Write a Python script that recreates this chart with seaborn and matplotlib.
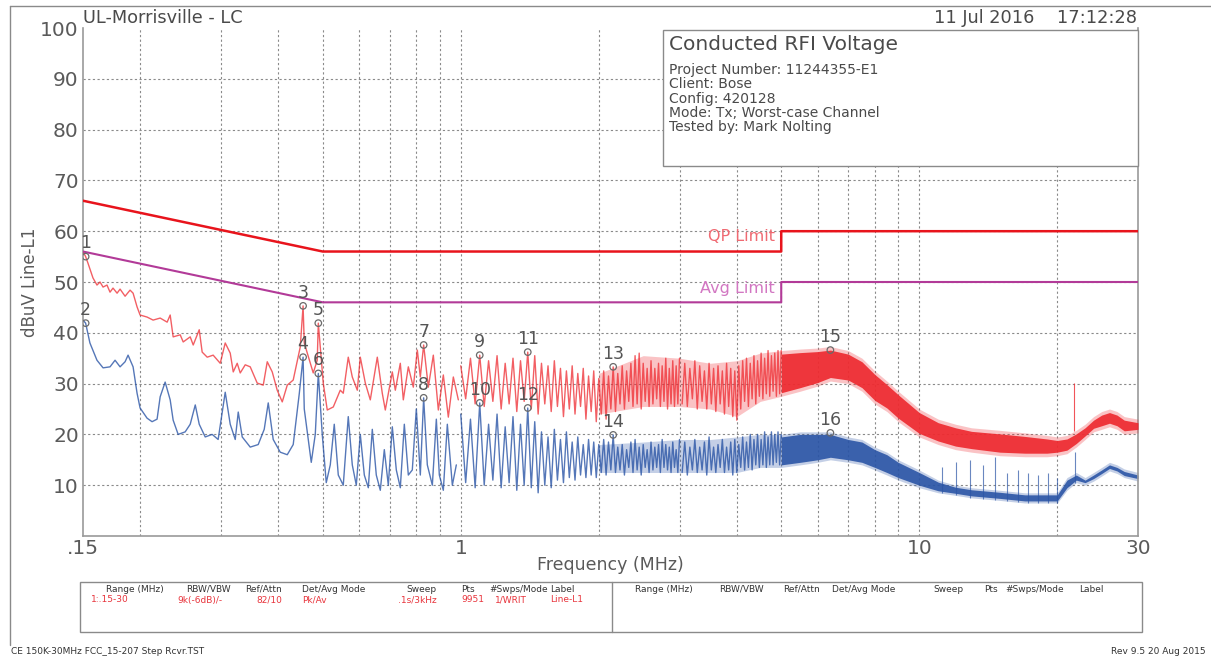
import numpy as np
import matplotlib
matplotlib.use("Agg")
import matplotlib.pyplot as plt
import seaborn as sns
from matplotlib.lines import Line2D
from matplotlib.patches import Rectangle

# ---------------- limit lines (FCC 15.207) ----------------
qp_freq = [0.15, 0.5, 5.0, 5.0, 30.0]
qp_level = [66.0, 56.0, 56.0, 60.0, 60.0]
avg_freq = [0.15, 0.5, 5.0, 5.0, 30.0]
avg_level = [56.0, 46.0, 46.0, 50.0, 50.0]

# ---------------- peak trace (red), 0.15 - 1 MHz ----------------
red_lo_freq = [0.150, 0.152, 0.1538, 0.1577, 0.1609, 0.1634, 0.1659, 0.1692, 0.1718, 0.1744,
               0.1780, 0.1807, 0.1853, 0.1900, 0.1929, 0.1968, 0.1998, 0.2069, 0.2133, 0.2210,
               0.2289, 0.2324, 0.2359, 0.2444, 0.2481, 0.2570, 0.2609, 0.2689, 0.2729, 0.2799,
               0.2884, 0.2988, 0.3064, 0.3142, 0.3190, 0.3254, 0.3304, 0.3388, 0.3474, 0.3598,
               0.3709, 0.3784, 0.3880, 0.3978, 0.4080, 0.4184, 0.4311, 0.4466, 0.453, 0.4557,
               0.4767, 0.4864, 0.489, 0.5013, 0.5115, 0.5272, 0.5460, 0.5543, 0.5684, 0.5800,
               0.5948, 0.6038, 0.6192, 0.6349, 0.6576, 0.6743, 0.6846, 0.7091, 0.7199, 0.7382,
               0.7494, 0.7685, 0.7880, 0.8040, 0.8162, 0.830, 0.8497, 0.8713, 0.8935, 0.9162,
               0.9395, 0.9634, 0.9879]
red_lo_level = [56.0, 55.0, 53.7, 50.8, 49.4, 50.0, 49.0, 49.4, 48.0, 48.8,
                47.8, 48.6, 47.2, 48.4, 47.8, 45.1, 43.5, 43.1, 42.5, 42.9,
                42.1, 43.5, 39.2, 39.6, 38.2, 39.2, 37.6, 40.6, 36.2, 35.2,
                35.6, 34.0, 38.0, 36.0, 32.3, 34.0, 32.1, 33.7, 33.3, 30.1,
                29.7, 34.3, 32.3, 28.7, 26.4, 29.7, 30.7, 37.2, 45.3, 38.0,
                32.1, 34.6, 41.9, 30.1, 24.8, 25.4, 28.7, 28.1, 35.2, 31.3,
                28.7, 35.2, 30.1, 26.8, 35.2, 28.1, 24.8, 32.3, 28.7, 34.0,
                26.8, 33.3, 29.3, 36.6, 31.3, 37.6, 29.3, 35.6, 24.8, 31.7,
                23.4, 31.3, 26.8]

# ---------------- average trace (blue), 0.15 - 1 MHz ----------------
blue_lo_freq = [0.150, 0.152, 0.1553, 0.1609, 0.1659, 0.1718, 0.1762, 0.1807, 0.1853, 0.1881,
                0.1929, 0.1968, 0.1998, 0.2069, 0.2122, 0.2176, 0.2210, 0.2266, 0.2324, 0.2359,
                0.2419, 0.2506, 0.2570, 0.2636, 0.2689, 0.2771, 0.2870, 0.2957, 0.3064, 0.3142,
                0.3222, 0.3271, 0.3337, 0.3474, 0.3616, 0.3727, 0.3803, 0.3899, 0.4039, 0.4184,
                0.4311, 0.4444, 0.453, 0.4557, 0.4720, 0.4816, 0.489, 0.4988, 0.5089, 0.5193,
                0.5298, 0.5406, 0.5543, 0.5684, 0.5800, 0.5918, 0.6038, 0.6161, 0.6286, 0.6413,
                0.6543, 0.6676, 0.6812, 0.6950, 0.7091, 0.7235, 0.7382, 0.7532, 0.7685, 0.7840,
                0.8000, 0.8162, 0.830, 0.8454, 0.8670, 0.8846, 0.8980, 0.9162, 0.9348, 0.9586,
                0.978]
blue_lo_level = [42.5, 41.9, 38.0, 34.6, 33.1, 33.3, 34.6, 33.3, 34.3, 35.6,
                 33.3, 28.1, 25.2, 23.2, 22.5, 23.0, 27.4, 30.3, 26.8, 22.8,
                 20.0, 20.5, 22.0, 25.8, 22.0, 19.5, 20.0, 19.0, 28.3, 22.0,
                 19.0, 24.4, 19.5, 17.5, 18.0, 21.0, 26.2, 19.0, 16.5, 16.0,
                 18.0, 28.0, 35.2, 25.0, 14.5, 20.0, 32.0, 20.0, 10.5, 14.0,
                 22.0, 12.0, 10.0, 23.5, 14.0, 10.0, 20.0, 12.0, 9.5, 21.0,
                 12.0, 9.0, 17.0, 10.0, 21.5, 13.0, 9.5, 22.0, 12.0, 13.0,
                 25.0, 12.0, 27.2, 14.0, 10.0, 23.0, 12.0, 9.0, 22.0, 10.0,
                 14.0]

# ---------------- 1 - 3 MHz sweep (peaks / troughs) ----------------
mid_freq = [1.000, 1.025, 1.050, 1.075, 1.100, 1.125, 1.150, 1.175, 1.200, 1.225,
            1.250, 1.275, 1.300, 1.325, 1.350, 1.375, 1.400, 1.425, 1.450, 1.475,
            1.500, 1.525, 1.550, 1.575, 1.600, 1.625, 1.650, 1.675, 1.700, 1.725,
            1.750, 1.775, 1.800, 1.825, 1.850, 1.875, 1.900, 1.925, 1.950, 1.975,
            2.000, 2.025, 2.050, 2.075, 2.100, 2.125, 2.150, 2.175, 2.200, 2.225,
            2.250, 2.275, 2.300, 2.325, 2.350, 2.375, 2.400, 2.425, 2.450, 2.475,
            2.500, 2.525, 2.550, 2.575, 2.600, 2.625, 2.650, 2.675, 2.700, 2.725,
            2.750, 2.775, 2.800, 2.825, 2.850, 2.875, 2.900, 2.925, 2.950, 2.975,
            3.000]
red_mid_level = [33.5, 27.0, 35.0, 26.0, 35.6, 25.5, 34.5, 26.5, 35.5, 25.0,
                 34.0, 26.0, 35.0, 24.5, 34.5, 26.5, 36.2, 25.0, 35.5, 24.0,
                 34.0, 26.0, 33.5, 24.5, 34.5, 25.5, 33.0, 23.5, 32.5, 25.0,
                 33.5, 24.0, 32.0, 25.5, 33.0, 23.0, 31.5, 24.5, 32.5, 22.5,
                 31.0, 24.0, 32.5, 23.0, 31.5, 25.0, 33.3, 24.5, 32.0, 26.0,
                 33.5, 25.0, 32.5, 26.5, 34.0, 25.5, 35.5, 26.0, 36.0, 25.0,
                 34.0, 26.5, 33.0, 25.5, 34.5, 26.0, 33.0, 27.0, 34.0, 25.5,
                 33.5, 26.5, 35.0, 25.0, 33.0, 26.0, 34.5, 25.5, 33.5, 26.0,
                 35.0]
blue_mid_level = [24.0, 10.5, 23.0, 9.5, 26.2, 10.0, 22.0, 11.0, 24.0, 9.5,
                  21.5, 10.5, 23.5, 9.0, 22.0, 10.0, 25.2, 9.5, 22.5, 8.5,
                  20.5, 10.0, 19.5, 9.5, 21.0, 11.0, 19.0, 10.5, 20.5, 11.5,
                  18.5, 11.0, 19.5, 12.0, 18.0, 11.5, 19.0, 12.0, 18.5, 11.5,
                  18.0, 12.5, 19.0, 12.0, 18.5, 13.0, 19.9, 12.5, 17.5, 13.0,
                  18.0, 12.0, 17.0, 13.5, 18.5, 12.5, 19.0, 13.0, 17.5, 12.0,
                  18.0, 13.5, 17.0, 12.5, 18.5, 13.0, 17.5, 13.5, 18.0, 12.5,
                  19.0, 13.5, 18.0, 13.0, 17.5, 12.5, 18.5, 13.5, 17.0, 12.5,
                  19.0]

# ---------------- 3 - 5 MHz sweep (peaks / troughs) ----------------
hf_freq = [3.04, 3.08, 3.12, 3.16, 3.20, 3.24, 3.28, 3.32, 3.36, 3.40,
           3.44, 3.48, 3.52, 3.56, 3.60, 3.64, 3.68, 3.72, 3.76, 3.80,
           3.84, 3.88, 3.92, 3.96, 4.00, 4.04, 4.08, 4.12, 4.16, 4.20,
           4.24, 4.28, 4.32, 4.36, 4.40, 4.44, 4.48, 4.52, 4.56, 4.60,
           4.64, 4.68, 4.72, 4.76, 4.80, 4.84, 4.88, 4.92, 4.96, 5.00]
red_hf_level = [26.0, 34.0, 25.5, 33.0, 27.0, 34.5, 25.0, 33.5, 26.5, 32.5,
                25.0, 34.0, 26.0, 33.0, 24.5, 33.5, 26.0, 32.5, 24.0, 34.0,
                25.5, 33.0, 23.5, 32.5, 22.8, 33.5, 25.0, 34.5, 26.5, 35.0,
                25.5, 34.0, 27.0, 35.5, 26.0, 34.5, 27.5, 36.0, 27.0, 35.0,
                28.0, 36.5, 27.5, 35.5, 28.5, 36.0, 27.5, 36.5, 28.0, 36.5]
blue_hf_level = [12.5, 18.5, 12.0, 17.5, 13.0, 19.0, 12.5, 17.5, 13.0, 18.5,
                 12.0, 19.5, 13.0, 17.5, 12.5, 18.0, 13.5, 19.0, 12.5, 17.5,
                 13.0, 18.5, 12.0, 19.0, 12.5, 18.0, 13.5, 19.5, 13.0, 18.5,
                 13.5, 20.0, 13.0, 19.0, 14.0, 20.0, 13.5, 19.0, 14.0, 20.5,
                 13.5, 19.5, 14.0, 20.5, 14.0, 20.0, 14.5, 20.5, 14.0, 20.0]

# ---------------- 2 - 30 MHz: dense sweep extremes ----------------
band_freq = [2.0, 2.5, 3.0, 3.5, 4.0, 4.5,
             5.0, 5.5, 6.0, 6.4, 7.0, 7.5, 8.0, 8.5, 9.0, 10.0,
             11.0, 12.0, 13.0, 15.0, 17.0, 19.0, 20.0, 21.0, 22.0, 23.0,
             24.0, 25.0, 26.0, 27.0, 28.0, 30.0]
red_band_hi = [32.0, 35.5, 35.0, 34.0, 34.5, 36.0,
               36.5, 36.8, 37.0, 37.3, 36.5, 35.0, 32.5, 30.5, 28.5, 25.0,
               23.0, 22.0, 21.3, 20.8, 20.3, 19.8, 19.5, 19.8, 20.8, 22.0,
               23.5, 24.5, 25.0, 24.5, 23.5, 23.0]
red_band_lo = [24.0, 25.5, 25.5, 25.0, 23.5, 26.5,
               27.5, 28.5, 29.5, 30.5, 30.0, 28.5, 26.0, 24.5, 22.5, 19.5,
               18.0, 17.0, 16.5, 15.8, 15.6, 15.6, 15.8, 16.2, 17.5, 19.0,
               20.5, 21.0, 21.5, 21.0, 20.0, 20.3]
blue_band_hi = [18.0, 18.5, 19.0, 19.0, 19.5, 20.0,
                20.0, 20.5, 20.5, 20.5, 19.5, 19.0, 17.5, 16.5, 15.0, 13.0,
                11.0, 10.0, 9.5, 9.0, 8.5, 8.5, 8.5, 11.5, 12.5, 11.5,
                12.5, 13.5, 14.5, 14.0, 13.2, 12.5]
blue_band_lo = [12.5, 12.5, 12.5, 12.5, 12.5, 13.5,
                13.5, 14.0, 14.5, 15.0, 14.5, 14.0, 13.0, 12.0, 11.0, 9.5,
                8.5, 8.0, 7.5, 7.0, 6.5, 6.5, 6.5, 9.0, 10.5, 10.0,
                10.8, 11.8, 12.8, 12.3, 11.5, 10.8]

# ---------------- 5 - 30 MHz: solid core of the dense sweep ----------------
core_freq = [5.0, 5.5, 6.0, 6.4, 7.0, 7.5, 8.0, 8.5, 9.0, 10.0,
             11.0, 12.0, 13.0, 15.0, 17.0, 19.0, 20.0, 21.0, 22.0, 23.0,
             24.0, 25.0, 26.0, 27.0, 28.0, 30.0]
red_core_hi = [35.8, 36.1, 36.3, 36.6, 35.8, 34.3, 31.8, 29.8, 27.8, 24.3,
               22.3, 21.3, 20.6, 20.1, 19.6, 19.1, 18.8, 19.1, 20.1, 21.3,
               22.8, 23.8, 24.3, 23.8, 22.8, 22.3]
red_core_lo = [28.2, 29.2, 30.2, 31.2, 30.7, 29.2, 26.7, 25.2, 23.2, 20.2,
               18.7, 17.7, 17.2, 16.5, 16.3, 16.3, 16.5, 16.9, 18.2, 19.7,
               21.2, 21.7, 22.2, 21.7, 20.7, 21.0]
blue_core_hi = [19.5, 20.0, 20.0, 20.0, 19.0, 18.5, 17.0, 16.0, 14.5, 12.5,
                10.6, 9.6, 9.1, 8.6, 8.1, 8.1, 8.1, 11.0, 12.0, 11.0,
                12.0, 13.0, 14.0, 13.5, 12.7, 12.0]
blue_core_lo = [14.0, 14.5, 15.0, 15.5, 15.0, 14.5, 13.5, 12.5, 11.5, 10.0,
                8.9, 8.4, 7.9, 7.4, 6.9, 6.9, 6.9, 9.5, 11.0, 10.5,
                11.3, 12.3, 13.3, 12.8, 11.9, 11.3]

# narrow spurs standing above the envelope
red_spike_freq = [21.8]
red_spike_level = [30.1]
blue_spike_freq = [11.2, 12.0, 12.9, 13.8, 14.6, 15.5, 16.4, 17.3, 18.2, 19.1, 20.0, 21.9]
blue_spike_level = [13.5, 14.5, 15.0, 14.0, 15.5, 12.5, 13.0, 12.5, 12.0, 12.5, 11.5, 16.5]

# ---------------- markers ----------------
marker_id = ["1", "2", "3", "4", "5", "6", "7", "8", "9", "10", "11", "12", "13", "14", "15", "16"]
marker_freq = [0.152, 0.152, 0.453, 0.453, 0.489, 0.489, 0.830, 0.830, 1.100, 1.100,
               1.400, 1.400, 2.150, 2.150, 6.40, 6.40]
marker_level = [55.0, 41.9, 45.3, 35.2, 41.9, 32.0, 37.6, 27.2, 35.6, 26.2,
                36.2, 25.2, 33.3, 19.9, 36.6, 20.3]

# ---------------- header / info text ----------------
site_text = "UL-Morrisville - LC"
date_text = "11 Jul 2016    17:12:28"
title_text = "Conducted RFI Voltage"
info_lines = ["Project Number: 11244355-E1", "Client: Bose", "Config: 420128",
              "Mode: Tx; Worst-case Channel", "Tested by: Mark Nolting"]
x_ticks = [0.15, 1, 10, 30]
x_tick_labels = [".15", "1", "10", "30"]
y_ticks = [10, 20, 30, 40, 50, 60, 70, 80, 90, 100]
grid_x = [0.2, 0.3, 0.4, 0.5, 0.6, 0.7, 0.8, 0.9, 1, 2, 3, 4, 5, 6, 7, 8, 9, 10, 20]
table_headers = ["Range (MHz)", "RBW/VBW", "Ref/Attn", "Det/Avg Mode", "Sweep", "Pts",
                 "#Swps/Mode", "Label"]
table_values = ["1:.15-30", "9k(-6dB)/-", "82/10", "Pk/Av", ".1s/3kHz", "9951", "1/WRIT", "Line-L1"]
footer_left = "CE 150K-30MHz FCC_15-207 Step Rcvr.TST"
footer_right = "Rev 9.5 20 Aug 2015"

# ---------------- styling ----------------
sns.set_theme(style="white")
plt.rcParams["font.family"] = ["DejaVu Sans"]

RED = "#ee2a30"
BLUE = "#2b55a6"
QP_RED = "#e8141c"
AVG_MAG = "#b23a98"
GREY = "#5a5a5a"

W, H = 1211, 661
fig = plt.figure(figsize=(W / 100, H / 100), dpi=100)
fig.patch.set_facecolor("white")
ax = fig.add_axes([83 / W, 1 - 536 / H, (1138 - 83) / W, (536 - 28) / H])
ax.set_facecolor("white")


def fx(x):
    return x / W


def fy(y):
    return 1 - y / H


ax.set_xscale("log")
ax.set_xlim(0.15, 30)
ax.set_ylim(0, 100)

# grid
for g in grid_x:
    ax.axvline(g, color="#8a8a8a", lw=0.8, ls=(0, (2, 2.2)), zorder=0.5)
for g in y_ticks[:-1]:
    ax.axhline(g, color="#8a8a8a", lw=0.8, ls=(0, (2, 2.2)), zorder=0.5)

ax.set_xticks(x_ticks)
ax.set_xticklabels(x_tick_labels)
ax.xaxis.set_minor_locator(matplotlib.ticker.NullLocator())
ax.set_yticks(y_ticks)
ax.set_yticklabels([str(v) for v in y_ticks])
ax.tick_params(axis="both", length=0, colors=GREY, labelsize=14.5)
ax.tick_params(axis="x", pad=2)
ax.tick_params(axis="y", pad=3)
for s in ["left", "bottom", "right"]:
    ax.spines[s].set_color("#9a9a9a")
    ax.spines[s].set_linewidth(1.2)
ax.spines["top"].set_visible(False)
ax.set_xlabel("Frequency (MHz)", fontsize=12.5, color=GREY, labelpad=-1)
ax.set_ylabel("dBuV Line-L1", fontsize=12, color=GREY, labelpad=1)

# traces: average (blue) first, peak (red) above it
ax.fill_between(band_freq, blue_band_lo, blue_band_hi, color=BLUE, alpha=0.28, lw=0, zorder=2)
ax.fill_between(core_freq, blue_core_lo, blue_core_hi, color=BLUE, alpha=0.9, lw=0, zorder=2)
for fr, lv in [(blue_lo_freq, blue_lo_level), (mid_freq, blue_mid_level), (hf_freq, blue_hf_level)]:
    sns.lineplot(x=fr, y=lv, ax=ax, color=BLUE, lw=1.0, alpha=0.8,
                 estimator=None, sort=False, zorder=2)
ax.vlines(blue_spike_freq, np.interp(blue_spike_freq, band_freq, blue_band_lo), blue_spike_level,
          color=BLUE, lw=0.8, alpha=0.7, zorder=2)

ax.fill_between(band_freq, red_band_lo, red_band_hi, color=RED, alpha=0.28, lw=0, zorder=3)
ax.fill_between(core_freq, red_core_lo, red_core_hi, color=RED, alpha=0.92, lw=0, zorder=3)
for fr, lv in [(red_lo_freq, red_lo_level), (mid_freq, red_mid_level), (hf_freq, red_hf_level)]:
    sns.lineplot(x=fr, y=lv, ax=ax, color=RED, lw=1.0, alpha=0.75,
                 estimator=None, sort=False, zorder=3)
ax.vlines(red_spike_freq, np.interp(red_spike_freq, band_freq, red_band_hi), red_spike_level,
          color=RED, lw=0.8, alpha=0.8, zorder=3)

# limit lines
sns.lineplot(x=qp_freq, y=qp_level, ax=ax, color=QP_RED, lw=1.8, estimator=None, sort=False, zorder=4)
sns.lineplot(x=avg_freq, y=avg_level, ax=ax, color=AVG_MAG, lw=1.5, estimator=None, sort=False, zorder=4)
ax.text(4.85, qp_level[-1] - 1.1, "QP Limit", color="#f06a72", fontsize=11.5, ha="right", va="center", zorder=5)
ax.text(4.85, avg_level[-1] - 1.2, "Avg Limit", color="#d277c2", fontsize=11.5, ha="right", va="center", zorder=5)

# markers
ax.scatter(marker_freq, marker_level, s=22, facecolors="none", edgecolors="#6a6a6a", lw=0.9, zorder=6)
for lab, f, v in zip(marker_id, marker_freq, marker_level):
    ax.annotate(lab, (f, v), xytext=(0, 9.5), textcoords="offset points", ha="center", va="center",
                fontsize=12.5, color="#555555", zorder=6)

# info box
info = Rectangle((fx(663), fy(166)), (1138 - 663) / W, (166 - 30) / H, transform=fig.transFigure,
                 facecolor="white", edgecolor="#8a8a8a", lw=1.0, zorder=10)
fig.add_artist(info)
fig.text(fx(669), fy(44), title_text, fontsize=14.5, color="#4a4a4a", va="center", ha="left", zorder=11)
for i, line in enumerate(info_lines):
    fig.text(fx(669), fy(70 + 14.3 * i), line, fontsize=10, color="#4a4a4a", va="center", ha="left", zorder=11)

# header
fig.text(fx(83), fy(18), site_text, fontsize=12.8, color="#4a4a4a", va="center", ha="left")
fig.text(fx(1137), fy(18), date_text, fontsize=12.8, color="#4a4a4a", va="center", ha="right")

# page frame
fig.add_artist(Line2D([fx(10), fx(1211)], [fy(6), fy(6)], transform=fig.transFigure, color="#8a8a8a", lw=1))
fig.add_artist(Line2D([fx(10), fx(10)], [fy(6), fy(645)], transform=fig.transFigure, color="#8a8a8a", lw=1))

# settings table
table = Rectangle((fx(80), fy(632)), (1142 - 80) / W, (632 - 582) / H, transform=fig.transFigure,
                  facecolor="none", edgecolor="#8a8a8a", lw=1.0)
fig.add_artist(table)
fig.add_artist(Line2D([fx(612), fx(612)], [fy(582), fy(632)], transform=fig.transFigure, color="#8a8a8a", lw=1))
head_x_left = [106, 186, 245, 302, 406, 461, 489, 550]
val_x_left = [91, 177, 256, 302, 398, 461, 495, 550]
head_x_right = [635, 719, 783, 832, 933, 984, 1005, 1079]
for h, x0 in zip(table_headers, head_x_left):
    fig.text(fx(x0), fy(589), h, fontsize=6.5, color="#333333", va="center", ha="left")
for h, x0 in zip(table_headers, head_x_right):
    fig.text(fx(x0), fy(589), h, fontsize=6.5, color="#333333", va="center", ha="left")
for v, x0 in zip(table_values, val_x_left):
    fig.text(fx(x0), fy(600), v, fontsize=6.5, color="#e8343c", va="center", ha="left")

# footer
fig.text(fx(11), fy(652), footer_left, fontsize=6.5, color="#333333", va="center", ha="left")
fig.text(fx(1206), fy(652), footer_right, fontsize=6.5, color="#333333", va="center", ha="right")

fig.savefig("out.png", dpi=100, facecolor="white")
